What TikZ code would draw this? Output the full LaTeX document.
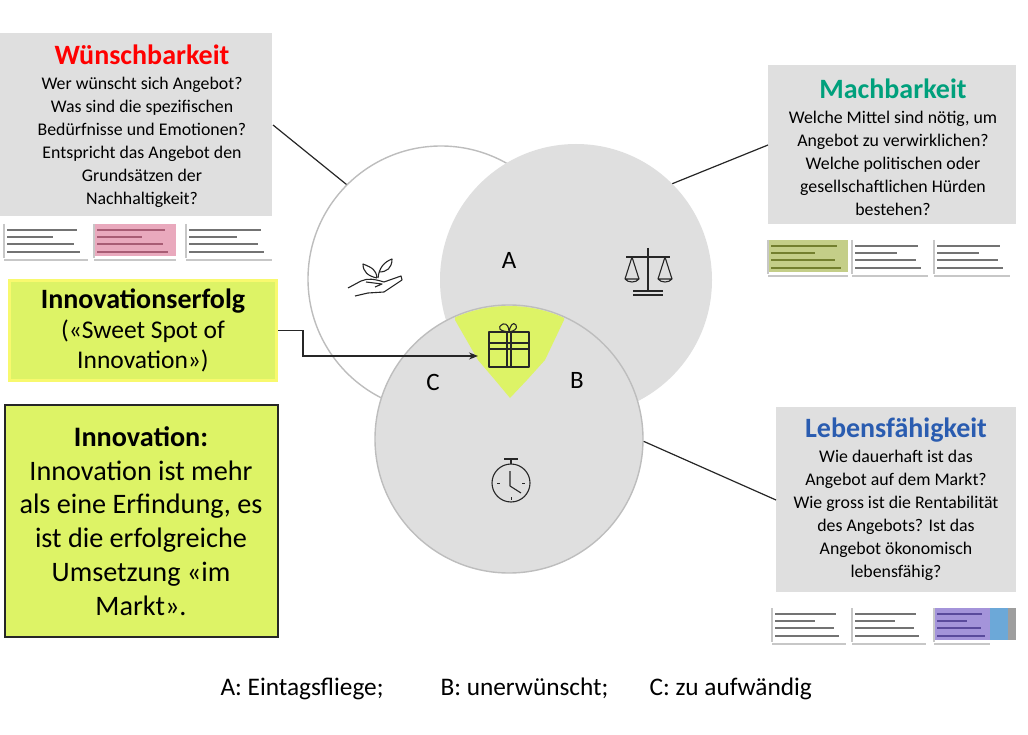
\documentclass[tikz,border=0pt]{standalone}
\usepackage{fontspec}
\setmainfont{Carlito}
\usetikzlibrary{positioning}
\usetikzlibrary{arrows.meta}

\definecolor{panelgrey}{HTML}{DFDFDF}
\definecolor{ringgrey}{HTML}{BDBDBD}
\definecolor{lime}{HTML}{DDF366}
\definecolor{sunny}{HTML}{F8F96E}
\definecolor{teal}{HTML}{00A07C}
\definecolor{royal}{HTML}{2A5CB0}
\definecolor{rosecell}{HTML}{E9A9BD}
\definecolor{rosebar}{HTML}{A85C74}
\definecolor{olivecell}{HTML}{C4CE88}
\definecolor{olivebar}{HTML}{737F2E}
\definecolor{violetcell}{HTML}{A494DA}
\definecolor{violetbar}{HTML}{5A4A9C}
\definecolor{bluecell}{HTML}{6CA8D8}

\tikzset{
  panel/.style={fill=panelgrey, inner sep=0pt},
  paneltext/.style={align=center, inner sep=0pt, font=\fontsize{17.8}{23}\selectfont},
  venn/.style={circle, inner sep=0pt, fill=panelgrey},
  ring/.style={draw=ringgrey, line width=1.4pt},
  link/.style={line width=1.2pt, black!85},
  icon/.style={line width=1.1pt, black!85, line join=round},
  letter/.style={font=\fontsize{25}{25}\selectfont},
  legend/.style={font=\fontsize{25.3}{25.3}\selectfont, anchor=base west}
}

% one cell of the small tables under the panels
\newcommand{\tablecell}[5]{
  \fill[#4] (#1,#2) rectangle ++(#3,32);
  \foreach \row/\len in {6/0.88, 13/0.6, 20/0.85, 28/0.92}
    \draw[#5, line width=1.6pt] (#1+3,#2+\row) -- ++(#3*\len-4,0);
  \draw[black!22, line width=1.2pt] (#1,#2) -- (#1,#2+34) (#1,#2+36) -- (#1+#3,#2+36);
}
\newcommand{\paneltitle}[2]{{\fontsize{28}{28}\selectfont\bfseries\color{#1}#2}\\[2pt]}

\begin{document}
\begin{tikzpicture}[x=1pt, y=-1pt]
\useasboundingbox (0,0) rectangle (1028,735);

% venn circles
\node[venn, fill=white, ring, minimum size=266pt] (circW) at (441,279) {};
\node[venn, minimum size=272pt] (circM) at (576,280) {};
\node[venn, ring, minimum size=268pt] (circL) at (509,439) {};
\begin{scope}
\clip (509,439) circle (133pt);
\fill[lime] (455,300) -- (455,320) -- (478,360) -- (495,380) -- (510,398) -- (527,380) -- (545,360) -- (564,320) -- (564,300) -- cycle;
\end{scope}

% panels
\node[panel, minimum width=272pt, minimum height=183pt] (wunsch) at (136,124.5) {};
\node[paneltext] (wunschtext) at (142,126.5)
  {\paneltitle{red}{Wünschbarkeit}
   Wer wünscht sich Angebot?\\Was sind die spezifischen\\Bedürfnisse und Emotionen?\\
   Entspricht das Angebot den\\Grundsätzen der\\Nachhaltigkeit?};
\node[panel, minimum width=248pt, minimum height=159pt] (mach) at (892,144.5) {};
\node[paneltext] (machtext) at (893,147)
  {\paneltitle{teal}{Machbarkeit}
   Welche Mittel sind nötig, um\\Angebot zu verwirklichen?\\Welche politischen oder\\
   gesellschaftlichen Hürden\\bestehen?};
\node[panel, minimum width=240pt, minimum height=185pt] (leben) at (896,499.5) {};
\node[paneltext] (lebentext) at (896,499.5)
  {\paneltitle{royal}{Lebensfähigkeit}
   Wie dauerhaft ist das\\Angebot auf dem Markt?\\Wie gross ist die Rentabilität\\
   des Angebots? Ist das\\Angebot ökonomisch\\lebensfähig?};
\node[fill=lime, draw=sunny, line width=3pt, inner sep=0pt, align=center, minimum width=267pt, minimum height=100pt,
  font=\fontsize{25.5}{30}\selectfont] (erfolg) at (143,330.5)
  {{\fontsize{28}{30}\selectfont\bfseries Innovationserfolg}\\(«Sweet Spot of\\Innovation»)};
\node[fill=lime, draw=black!85, line width=2pt, inner sep=0pt, align=center, minimum width=273pt,
  minimum height=232pt, font=\fontsize{28.2}{33.7}\selectfont] (innov) at (141,521)
  {\textbf{Innovation:}\\Innovation ist mehr\\als eine Erfindung, es\\ist die erfolgreiche\\
   Umsetzung «im\\Markt».};

% small tables
\tablecell{4}{224}{84}{white}{black!55}
\tablecell{94}{224}{82}{rosecell}{rosebar}
\tablecell{186}{224}{86}{white}{black!55}
\tablecell{768}{240}{80}{olivecell}{olivebar}
\tablecell{852}{240}{76}{white}{black!55}
\tablecell{934}{240}{76}{white}{black!55}
\tablecell{772}{608}{74}{white}{black!55}
\tablecell{852}{608}{74}{white}{black!55}
\fill[bluecell] (986,608) rectangle (1008,640);
\fill[black!38] (1008,608) rectangle (1016,640);
\tablecell{934}{608}{56}{violetcell}{violetbar}

% connectors
\coordinate (wunschend) at (273,125);
\coordinate (machend) at (768,145);
\coordinate (lebenend) at (776,500);
\coordinate (giftin) at (478,356);
\draw[link] (wunschend) -- (circW.135);
\draw[link] (machend) -- (circM.45);
\draw[link] (lebenend) -- (circL.-1);
\draw[-{Stealth[length=9pt,width=7pt]}, link] (erfolg.east) -- ++(25,0) |- (giftin);

% letters
\node[letter] (labelA) at (509,260) {A};
\node[letter] (labelB) at (577,380) {B};
\node[letter] (labelC) at (433,382) {C};

% plant in hand
\draw[icon] (348,288) -- (361,281) .. controls (368,278) and (374,279) .. (384,282) -- (401,276) -- (402,280) -- (384,292) -- (368,293) -- (355,296);
\draw[icon] (366,282) -- (382,284) -- (375,287);
\draw[icon] (377,278) .. controls (376,270) and (373,268) .. (363,264) .. controls (363,272) and (368,276) .. (377,278);
\draw[icon] (378,278) .. controls (379,268) and (384,262) .. (392,259) .. controls (392,268) and (387,272) .. (379,272);

% scales
\draw[icon] (648,248) -- (648,291) (626,257) -- (670,257) (633,291) -- (663,291) (633,295) -- (663,295);
\draw[icon] (632,257) -- (625,279) .. controls (628,283) and (636,283) .. (639,279) -- (632,257) (625,279) -- (639,279);
\draw[icon] (665,257) -- (658,279) .. controls (661,283) and (669,283) .. (672,279) -- (665,257) (658,279) -- (672,279);

% gift
\draw[icon] (489,332) rectangle (529,367);
\draw[icon] (489,343) -- (529,343) (489,349) -- (529,349) (507,332) -- (507,367) (511,332) -- (511,367);
\draw[icon] (509,332) .. controls (500,331) and (496,328) .. (503,324) .. controls (507,323) and (509,327) .. (509,332) .. controls (510,326) and (513,321) .. (516,325) .. controls (518,329) and (514,331) .. (509,332);

% stopwatch
\draw[icon] (511,483) circle (19pt);
\draw[icon] (504,459) -- (518,459) (511,459) -- (511,464);
\draw[icon] (510,471) -- (510,486) -- (521,493);
\draw[icon, line width=0.6pt] (497,483) -- (500,483) (522,483) -- (525,483) (511,497) -- (511,500);

% legend
\node[legend] (legA) at (217,695) {A: Eintagsfliege;};
\node[legend] (legB) at (437,695) {B: unerwünscht;};
\node[legend] (legC) at (646,695) {C: zu aufwändig};
\end{tikzpicture}
\end{document}
